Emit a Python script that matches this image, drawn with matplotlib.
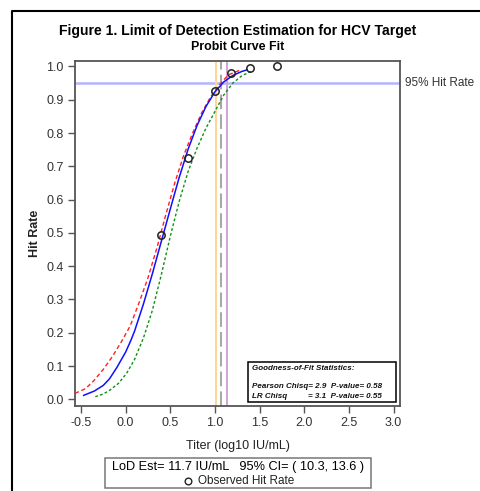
import numpy as np
import matplotlib
matplotlib.use("Agg")
import matplotlib.pyplot as plt
from matplotlib.lines import Line2D
from matplotlib.patches import Rectangle

plt.rcParams["font.family"] = ["Liberation Sans", "DejaVu Sans"]

# observed data (titer in IU/mL -> log10)
conc = [2.5, 5, 10, 15, 25, 50]
hit_rate = [0.493, 0.725, 0.925, 0.980, 0.995, 1.000]

# probit fit curve and its confidence limits
fit_x = [-0.47, -0.35, -0.25, -0.18, -0.10, 0.00, 0.06, 0.10, 0.20, 0.30, 0.40, 0.50,
         0.60, 0.70, 0.80, 0.90, 1.00, 1.10, 1.20, 1.30, 1.36]
fit_y = [0.012, 0.025, 0.042, 0.062, 0.095, 0.142, 0.178, 0.205, 0.287, 0.378, 0.475, 0.572,
         0.667, 0.752, 0.823, 0.880, 0.924, 0.954, 0.973, 0.985, 0.990]

upper_x = [-0.567, -0.45, -0.36, -0.25, -0.15, -0.05, 0.05, 0.15, 0.25, 0.35, 0.45, 0.55,
           0.65, 0.75, 0.85, 0.95, 1.05, 1.15, 1.30]
upper_y = [0.018, 0.032, 0.055, 0.090, 0.128, 0.172, 0.220, 0.290, 0.365, 0.455, 0.555, 0.650,
           0.733, 0.800, 0.860, 0.908, 0.945, 0.975, 0.991]

lower_x = [-0.34, -0.25, -0.175, -0.08, 0.01, 0.10, 0.20, 0.30, 0.40, 0.50, 0.60, 0.70,
           0.80, 0.90, 1.00, 1.10, 1.20, 1.30, 1.40]
lower_y = [0.008, 0.016, 0.028, 0.048, 0.078, 0.120, 0.185, 0.268, 0.375, 0.490, 0.595, 0.685,
           0.755, 0.815, 0.865, 0.915, 0.950, 0.972, 0.985]

lod_est = 11.7
ci_low, ci_high = 10.3, 13.6
target_rate = 0.95
pearson_chisq, pearson_p = 2.9, 0.58
lr_chisq, lr_p = 3.1, 0.55

W, H = 480, 491
fig = plt.figure(figsize=(W / 100, H / 100), dpi=100)


def fx(px):
    return px / W


def fy(py):
    return 1 - py / H


ax = fig.add_axes([fx(75), fy(406), fx(400) - fx(75), fy(61) - fy(406)])

ax.axhline(target_rate, color="#b4b4ff", lw=1.8, zorder=1)
ax.axvline(np.log10(ci_low), color="#ffd699", lw=1.5, zorder=1)
ax.axvline(np.log10(lod_est), color="#a8a8a8", lw=1.5, ls=(0, (7, 2.5)), zorder=1)
ax.axvline(np.log10(ci_high), color="#cfa8d8", lw=1.5, zorder=1)

ax.plot(upper_x, upper_y, color="#ff2020", lw=1, ls=(0, (3, 2)), zorder=3)
ax.plot(lower_x, lower_y, color="#109010", lw=1, ls=(0, (2, 1.6)), zorder=3)
ax.plot(fit_x, fit_y, color="#1010ff", lw=1.1, zorder=4)
ax.plot(np.log10(conc), hit_rate, "o", mfc="none", mec="#222222", ms=5.3, mew=1.1, zorder=5)

ax.set_xlim(-0.567, 3.072)
ax.set_ylim(-0.02, 1.0165)
ax.set_xticks(np.arange(-0.5, 3.01, 0.5))
ax.set_yticks(np.arange(0, 1.01, 0.1))
ax.xaxis.set_major_formatter(plt.FormatStrFormatter("%.1f"))
ax.yaxis.set_major_formatter(plt.FormatStrFormatter("%.1f"))
ax.tick_params(length=5, width=1, color="#555555", labelsize=9, labelcolor="#333333", pad=3)
for s in ax.spines.values():
    s.set_color("#555555")
    s.set_linewidth(1.3)

ax.set_xlabel("Titer (log10 IU/mL)", fontsize=9, color="#222222", labelpad=8)
ax.set_ylabel("Hit Rate", fontsize=9, fontweight="bold", color="#222222", labelpad=4)

fig.text(fx(237.5), fy(31), "Figure 1. Limit of Detection Estimation for HCV Target",
         ha="center", va="center", fontsize=10.1, fontweight="bold")
fig.text(fx(237.5), fy(46.5), "Probit Curve Fit", ha="center", va="center",
         fontsize=8.9, fontweight="bold")
fig.text(fx(405), fy(83), "95% Hit Rate", ha="left", va="center", fontsize=8.5, color="#333333")

# goodness-of-fit box
fig.patches.append(Rectangle((fx(248), fy(402)), fx(396) - fx(248), fy(362) - fy(402),
                             transform=fig.transFigure, fill=False, ec="black", lw=1.1))
gof_font = dict(fontsize=5.75, fontweight="bold", style="italic", va="center", color="#111111")
fig.text(fx(252), fy(368.5), "Goodness-of-Fit Statistics:", ha="left", **gof_font)
pearson_txt = fig.text(fx(252), fy(387), f"Pearson Chisq= {pearson_chisq}  P-value= {pearson_p}",
                       ha="left", **gof_font)
fig.canvas.draw()
right_px = pearson_txt.get_window_extent().x1
fig.text(fx(252), fy(396), "LR Chisq", ha="left", **gof_font)
fig.text(right_px / W, fy(396), f"= {lr_chisq}  P-value= {lr_p}", ha="right", **gof_font)

# legend box
fig.patches.append(Rectangle((fx(105), fy(488)), fx(371) - fx(105), fy(458) - fy(488),
                             transform=fig.transFigure, fill=False, ec="#777777", lw=1.1))
fig.text(fx(238), fy(467), f"LoD Est= {lod_est} IU/mL   95% CI= ( {ci_low}, {ci_high} )",
         ha="center", va="center", fontsize=9.2)
fig.lines.append(Line2D([fx(188)], [fy(481)], marker="o", mfc="none", mec="#222222", ms=4.8,
                        mew=1, transform=fig.transFigure))
fig.text(fx(198), fy(481), "Observed Hit Rate", ha="left", va="center", fontsize=8.5,
         color="#222222")

# outer frame (partially cut off at right and bottom)
fig.lines.append(Line2D([fx(12), fx(12), fx(480)], [fy(491), fy(11), fy(11)],
                        color="black", lw=1.5, transform=fig.transFigure))

fig.savefig("out.png", dpi=100)
